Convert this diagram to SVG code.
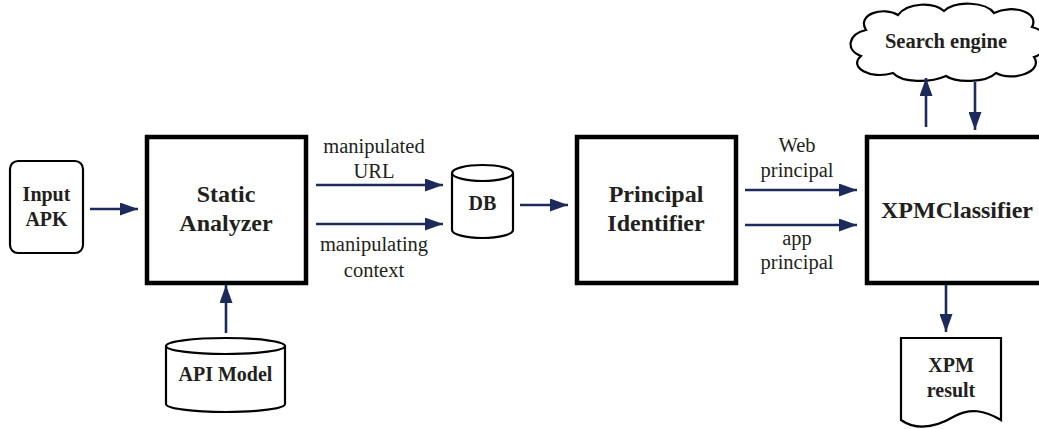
<svg xmlns="http://www.w3.org/2000/svg" width="1039" height="429" viewBox="0 0 1039 429">
<defs>
<marker id="ah" viewBox="0 0 18 13" refX="18" refY="6.5" markerWidth="18" markerHeight="13" markerUnits="userSpaceOnUse" orient="auto">
<path d="M0,0 L18,6.5 L0,13 Z" fill="#1c2a5c"/>
</marker>
<style>
.box{fill:#fff;stroke:#000;stroke-width:4.5}
.thin{fill:#fff;stroke:#000;stroke-width:2.2}
text{font-family:'Liberation Serif','Times New Roman','DejaVu Serif',serif}
.b{font-weight:bold;fill:#231f20;text-anchor:middle}
.n{font-size:20.5px;fill:#231f20;text-anchor:middle}
.c{stroke:#1c2a5c;stroke-width:2.6;fill:none;marker-end:url(#ah)}
</style>
</defs>
<rect width="1039" height="429" fill="#fff"/>
<g id="input-apk">
<rect class="thin" x="10" y="161" width="73" height="92" rx="8"/>
<text class="b" x="46.5" y="201" font-size="20">Input</text>
<text class="b" x="46.5" y="226" font-size="20">APK</text>
</g>
<g id="static-analyzer">
<rect class="box" x="147" y="137" width="159" height="146"/>
<text class="b" x="226" y="202" font-size="24">Static</text>
<text class="b" x="226" y="231" font-size="24">Analyzer</text>
</g>
<g id="api-model">
<path class="thin" d="M166,346 V404 A59.5,8 0 0 0 285,404 V346"/>
<ellipse class="thin" cx="225.5" cy="346" rx="59.5" ry="8"/>
<text class="b" x="225.5" y="381" font-size="20">API Model</text>
</g>
<g id="db">
<path class="thin" d="M452,173 V230 A30.5,8 0 0 0 513,230 V173"/>
<ellipse class="thin" cx="482.5" cy="173" rx="30.5" ry="8"/>
<text class="b" x="482.5" y="210" font-size="20">DB</text>
</g>
<g id="principal-identifier">
<rect class="box" x="577" y="137" width="159" height="146"/>
<text class="b" x="656" y="202" font-size="24">Principal</text>
<text class="b" x="656" y="231" font-size="24">Identifier</text>
</g>
<g id="xpm-classifier">
<rect class="box" x="867" y="137" width="185" height="146"/>
<text class="b" x="957" y="218" font-size="24">XPMClassifier</text>
</g>
<g id="search-engine">
<path class="thin" d="M866,30 C856,14 884,6 898,15 C908,2 934,2 944,11 C956,0 986,2 994,13 C1012,4 1040,12 1032,27 C1052,32 1050,52 1034,57 C1044,72 1012,82 996,73 C986,83 956,83 946,76 C930,83 902,83 893,73 C870,80 848,67 861,56 C845,50 848,34 866,30 Z"/>
<text class="b" x="946" y="48" font-size="20.5">Search engine</text>
</g>
<g id="xpm-result">
<path class="thin" d="M901,338 H1001 V420 C984,410 970,408 955,416 C938,426 918,432 901,420 Z"/>
<text class="b" x="951" y="372" font-size="20">XPM</text>
<text class="b" x="951" y="397" font-size="20">result</text>
</g>
<g id="connectors">
<line class="c" x1="90" y1="209" x2="138" y2="209"/>
<line class="c" x1="226" y1="333" x2="226" y2="285"/>
<line class="c" x1="316" y1="185" x2="443" y2="185"/>
<line class="c" x1="316" y1="224" x2="443" y2="224"/>
<line class="c" x1="520" y1="205" x2="568" y2="205"/>
<line class="c" x1="745" y1="190" x2="857" y2="190"/>
<line class="c" x1="745" y1="225" x2="857" y2="225"/>
<line class="c" x1="926" y1="127" x2="926" y2="78"/>
<line class="c" x1="975" y1="82" x2="975" y2="130"/>
<line class="c" x1="946" y1="285" x2="946" y2="332"/>
<text class="n" x="374" y="153">manipulated</text>
<text class="n" x="374" y="178">URL</text>
<text class="n" x="374" y="251">manipulating</text>
<text class="n" x="374" y="277">context</text>
<text class="n" x="797" y="152">Web</text>
<text class="n" x="797" y="177">principal</text>
<text class="n" x="797" y="245">app</text>
<text class="n" x="797" y="269">principal</text>
</g>
</svg>
